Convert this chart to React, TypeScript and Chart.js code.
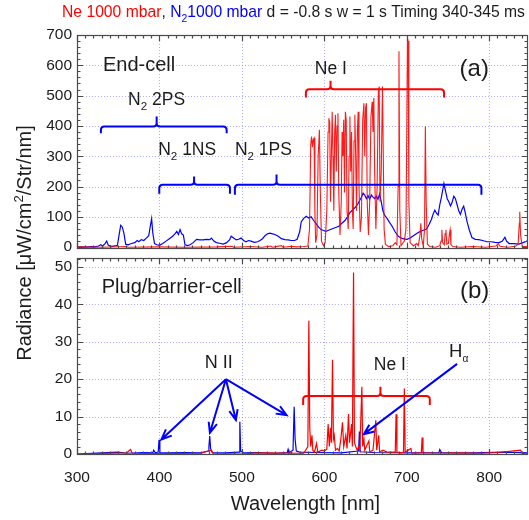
import React, { useEffect, useRef } from "react";
import { Chart, registerables } from "chart.js";

Chart.register(...registerables);

// ---------- styling constants ----------
const FONT = "'Liberation Sans', Arial, Helvetica, sans-serif";
const RED = "#ff0000";
const BLUE = "#0000ff";
const INK = "#1c1c1c";
const FRAME = "#4a4a4a";
const GRID = "rgba(120,120,255,0.6)";

// ---------- axes ----------
const WAVELENGTH_MIN = 300;
const WAVELENGTH_MAX = 847;
const X_TICKS = [300, 400, 500, 600, 700, 800];
const X_MAJOR_STEP = 100;
const X_MINOR_STEP = 10;

const TOP_Y_MIN = -6;
const TOP_Y_MAX = 700;
const TOP_Y_TICKS = [0, 100, 200, 300, 400, 500, 600, 700];
const TOP_Y_STEP = 100;
const TOP_Y_MINOR = 20;

const BOT_Y_MIN = -0.27;
const BOT_Y_MAX = 52.4;
const BOT_Y_TICKS = [0, 10, 20, 30, 40, 50];
const BOT_Y_STEP = 10;
const BOT_Y_MINOR = 2;

// ---------- data: (a) End-cell ----------
// N2 spectrum, [wavelength nm, radiance]
const n2EndCell: [number, number][] = [
  [300, 0], [305, 1], [310, 0], [318, 2], [322, 1], [326, 4], [329, 8], [331, 3], [334, 12], [336, 20], [338, 6],
  [342, 3], [346, 4], [349, 6], [351, 40], [353, 72], [355, 66], [357, 45], [359, 10], [362, 8], [366, 12], [370, 15],
  [373, 22], [375, 18], [378, 25], [381, 22], [384, 30], [387, 38], [389, 70], [390.5, 94], [392, 45], [394, 12],
  [397, 8], [400, 6], [404, 12], [408, 20], [412, 28], [416, 36], [419, 45], [421, 52], [423, 42], [425, 58],
  [427, 44], [429, 40], [431, 8], [434, 5], [437, 8], [441, 15], [445, 26], [449, 24], [453, 24], [457, 26],
  [461, 25], [463, 30], [466, 20], [469, 15], [473, 13], [477, 10], [481, 14], [485, 24], [487, 36], [490, 30],
  [493, 24], [496, 26], [499, 30], [502, 22], [505, 18], [508, 22], [511, 20], [515, 16], [519, 18], [522, 22],
  [525, 28], [528, 38], [531, 44], [534, 46], [537, 44], [540, 42], [544, 36], [548, 28], [552, 25], [556, 24],
  [560, 22], [564, 22], [567, 26], [570, 50], [572, 84], [575, 95], [578, 102], [581, 96], [584, 100], [587, 88],
  [590, 78], [593, 66], [596, 58], [599, 55], [602, 52], [605, 56], [609, 60], [613, 64], [617, 68], [621, 78],
  [625, 88], [628, 100], [631, 114], [634, 122], [637, 130], [640, 140], [643, 155], [645, 165], [647, 178],
  [649, 172], [651, 160], [653, 170], [655, 158], [657, 172], [659, 165], [661, 160], [663, 168], [665, 158],
  [667, 175], [669, 150], [671, 120], [673, 106], [676, 95], [679, 82], [682, 70], [686, 50], [690, 35], [695, 28],
  [700, 26], [704, 30], [708, 38], [712, 45], [716, 52], [720, 56], [724, 60], [727, 75], [730, 92], [732, 110],
  [734, 122], [736, 112], [738, 106], [740, 140], [742, 165], [745, 210], [747, 185], [749, 160], [751, 150],
  [753, 136], [755, 148], [757, 168], [759, 160], [761, 140], [763, 120], [765, 108], [767, 125], [769, 135],
  [771, 112], [773, 85], [776, 55], [779, 32], [783, 26], [787, 25], [792, 22], [797, 18], [802, 18], [807, 16],
  [812, 15], [816, 20], [819, 33], [821, 20], [824, 12], [830, 12], [836, 10], [840, 14], [844, 18], [847, 22],
];

// Ne spectrum, [wavelength nm, radiance]
const neEndCell: [number, number][] = [
  [300, 1], [330, 0], [360, 2], [362, 0], [400, 1], [430, 0], [470, 1], [488, 3], [490, 0], [510, 2], [525, 0],
  [535, 4], [537, 0], [548, 5], [550, 0], [560, 3], [566, 1], [575, 2], [580, 4],
  [582, 60], [583.5, 340], [584.5, 365], [585.5, 330], [586.5, 355], [587.5, 360], [588.5, 120], [589.5, 15],
  [591, 40], [592.5, 300], [594, 387], [595, 200], [596.5, 20], [599, 5], [601, 15],
  [603, 120], [604.5, 380], [605.5, 425], [606.5, 410], [607.5, 150], [608.5, 300], [609.5, 447], [610.5, 300],
  [611.5, 120], [612.5, 380], [613.5, 437], [614.5, 250], [615.5, 400], [616.5, 442], [617.5, 180], [619, 40],
  [620.5, 150], [621.5, 380], [622.5, 300], [623.5, 420], [624.5, 180], [625.5, 447], [626.5, 420], [627.5, 120],
  [629, 60], [630, 300], [631, 431], [632, 250], [633, 380], [634, 120], [635, 60], [636, 350], [637, 437],
  [638, 300], [639, 120], [640, 380], [641, 447], [642, 200], [643.5, 50], [645, 100], [646.5, 420], [648, 475],
  [649, 300], [650, 460], [651, 475], [652, 150], [653.5, 40], [655, 150], [656.5, 430], [658, 480], [659, 380],
  [660, 492], [661, 250], [662.5, 60], [664, 200], [665.5, 510], [666.5, 530], [667.5, 150], [669, 250],
  [670.5, 530], [671.5, 300], [672.5, 60], [674, 10], [678, 2], [683, 5], [686, 15], [688, 8], [689.5, 200],
  [690.5, 646], [691.5, 120], [693, 5], [697, 20], [699, 60], [700, 400], [700.8, 690], [701.6, 680],
  [702.5, 150], [704, 15], [708, 4], [712, 12], [714, 5], [716, 40], [717, 79], [718, 30], [720, 3], [721.5, 60],
  [722.5, 398], [723.5, 150], [725, 10], [728, 2], [735, 0], [740, 5], [741.5, 20], [742.5, 57], [743.5, 15],
  [745.5, 8], [746.5, 45], [747.5, 57], [748.5, 10], [750.5, 12], [751.5, 40], [752.5, 57], [753.5, 8],
  [756, 2], [765, 0], [780, 2], [795, 0], [808, 4], [811, 12], [813, 3], [822, 0], [832, 3], [835, 10],
  [836.5, 80], [837, 117], [838, 40], [840, 3], [847, 1],
];

// ---------- data: (b) Plug/barrier-cell ----------
const n2PlugCell: [number, number][] = [
  [300, 0], [330, 0.3], [350, 0.5], [360, 0.2], [380, 0.4], [392, 0.3], [393, 1], [395, 0.3], [398.5, 0.5],
  [399.5, 3.8], [400.5, 0.4], [410, 0.3], [430, 0.4], [450, 0.3], [459, 0.8], [460, 2], [461, 4.8], [462, 1.5],
  [464, 0.4], [480, 0.3], [496.5, 0.5], [497.5, 8.6], [498.5, 0.8], [502, 0.3], [520, 0.4], [540, 0.2],
  [555, 0.4], [556, 1.2], [557, 0.3], [562, 1], [563.4, 12.6], [564.5, 4], [566, 0.8], [570, 0.5], [590, 0.4],
  [620, 0.3], [641.5, 0.8], [642.5, 6], [643.5, 0.6], [660, 0.4], [700, 0.3], [739, 0.4], [740, 1.2],
  [742, 0.4], [780, 0.3], [820, 0.5], [847, 0.3],
];

const nePlugCell: [number, number][] = [
  [300, 0], [360, 0.3], [365, 1.2], [367, 0.2], [400, 0.1], [450, 0.2], [463, 1], [465, 0.1], [500, 0],
  [520, 0.3], [575, 0.2], [580, 2], [581.2, 35.6], [582.3, 7], [583.5, 2], [585, 5], [586, 1], [588, 0.5],
  [590.5, 2.8], [592, 0.5], [597, 1], [600, 0.8], [603, 1.3], [604.6, 8], [606, 2], [607.5, 7], [608.5, 3],
  [609.9, 25.2], [611, 4], [612, 5], [613.5, 1], [616, 1.5], [618, 0.8], [620, 4], [622, 8.5], [623.5, 2],
  [626, 5], [627.5, 1.5], [629.3, 10.7], [630.5, 3], [633, 8], [634, 2], [635.4, 48.5], [636.5, 3], [638, 2],
  [640, 1], [641.5, 2], [643, 1], [645.5, 18], [646.5, 2], [648, 4], [649, 1], [651, 2], [654, 3.5], [655, 0.5],
  [659, 1], [662.4, 9], [663.5, 1], [666, 5], [667, 0.5], [671, 1], [676, 0.5], [686, 0.5], [687, 10.6],
  [688, 0.5], [693, 0.3], [696, 0.5], [697, 17.5], [698, 0.5], [705, 1.5], [706, 0.2], [717.6, 0.3],
  [718.6, 4.4], [719.6, 0.3], [740, 0.2], [760, 0.3], [790, 0.2], [810, 0.4], [838, 1], [840, 0.2], [847, 0],
];

// ---------- annotations (data coordinates) ----------
type Part = { t: string; c?: string; sub?: boolean; sup?: boolean; scale?: number };
type Label = { parts: Part[]; x: number; y: number; size: number; color: string };
type Brace = { x1: number; x2: number; xc: number; y: number; yEnd: number; yTop: number; color: string };
type Arrow = { x0: number; y0: number; x1: number; y1: number; color: string };

const TITLE_PARTS: Part[] = [
  { t: "Ne 1000 mbar", c: RED },
  { t: ", ", c: INK },
  { t: "N", c: BLUE },
  { t: "2", c: BLUE, sub: true },
  { t: "1000 mbar", c: BLUE },
  { t: " d = -0.8 s w = 1 s Timing 340-345 ms", c: INK },
];
const Y_TITLE_PARTS: Part[] = [
  { t: "Radiance [\u03bcW/cm" },
  { t: "2", sup: true },
  { t: "/Str/nm]" },
];
const X_TITLE = "Wavelength [nm]";

const topLabels: Label[] = [
  { parts: [{ t: "End-cell" }], x: 331.5, y: 580, size: 20, color: INK },
  { parts: [{ t: "(a)" }], x: 764, y: 564, size: 24, color: INK },
  { parts: [{ t: "N" }, { t: "2", sub: true }, { t: " 2PS" }], x: 362, y: 470, size: 17.5, color: INK },
  { parts: [{ t: "N" }, { t: "2", sub: true }, { t: " 1NS" }], x: 398.5, y: 305, size: 17.5, color: INK },
  { parts: [{ t: "N" }, { t: "2", sub: true }, { t: " 1PS" }], x: 491.5, y: 305, size: 17.5, color: INK },
  { parts: [{ t: "Ne I" }], x: 588.5, y: 571, size: 17.5, color: INK },
];
const topBraces: Brace[] = [
  { x1: 329, x2: 481.5, xc: 396.6, y: 398, yEnd: 376, yTop: 431, color: BLUE },
  { x1: 399.8, x2: 485.5, xc: 442, y: 205.6, yEnd: 176, yTop: 233, color: BLUE },
  { x1: 491.5, x2: 790.5, xc: 542, y: 205.6, yEnd: 173, yTop: 240, color: BLUE },
  { x1: 577.6, x2: 745.2, xc: 607.5, y: 521, yEnd: 494, yTop: 549, color: RED },
];

const botLabels: Label[] = [
  { parts: [{ t: "Plug/barrier-cell" }], x: 330, y: 43, size: 20, color: INK },
  { parts: [{ t: "(b)" }], x: 764.5, y: 41.8, size: 24, color: INK },
  { parts: [{ t: "N II" }], x: 455, y: 22.9, size: 18, color: INK },
  { parts: [{ t: "Ne I" }], x: 660, y: 22.5, size: 17.5, color: INK },
  { parts: [{ t: "H" }, { t: "\u03b1", sub: true, scale: 0.55 }], x: 751.3, y: 26, size: 18.5, color: INK },
];
const botBraces: Brace[] = [
  { x1: 574.3, x2: 727.9, xc: 668, y: 15.5, yEnd: 13.1, yTop: 18, color: RED },
];
const botArrows: Arrow[] = [
  { x0: 480.6, y0: 20, x1: 402.4, y1: 3.9, color: BLUE },
  { x0: 480.6, y0: 20, x1: 461.2, y1: 5.7, color: BLUE },
  { x0: 480.6, y0: 20, x1: 492.7, y1: 9.1, color: BLUE },
  { x0: 480.6, y0: 20, x1: 554.2, y1: 10.4, color: BLUE },
  { x0: 761, y0: 24.1, x1: 647.9, y1: 5.3, color: BLUE },
];

// ---------- drawing helpers ----------
const font = (size: number) => `${size}px ${FONT}`;
const partSize = (p: Part, size: number) => (p.sub || p.sup ? size * (p.scale || 0.66) : size);

function drawRich(ctx: CanvasRenderingContext2D, parts: Part[], x: number, y: number, size: number, color: string, align: "left" | "center" = "left") {
  ctx.textBaseline = "alphabetic";
  ctx.textAlign = "left";
  let w = 0;
  for (const p of parts) {
    ctx.font = font(partSize(p, size));
    w += ctx.measureText(p.t).width;
  }
  let cx = align === "center" ? x - w / 2 : x;
  for (const p of parts) {
    ctx.font = font(partSize(p, size));
    ctx.fillStyle = p.c || color;
    const dy = p.sub ? size * 0.3 : p.sup ? -size * 0.4 : 0;
    ctx.fillText(p.t, cx, y + dy);
    cx += ctx.measureText(p.t).width;
  }
}

function drawBrace(ctx: CanvasRenderingContext2D, xs: any, ys: any, b: Brace) {
  const x1 = xs.getPixelForValue(b.x1);
  const x2 = xs.getPixelForValue(b.x2);
  const xc = xs.getPixelForValue(b.xc);
  const y = ys.getPixelForValue(b.y);
  const yEnd = ys.getPixelForValue(b.yEnd);
  const yTop = ys.getPixelForValue(b.yTop);
  const r = 3.5;
  ctx.strokeStyle = b.color;
  ctx.lineWidth = 2;
  ctx.beginPath();
  ctx.moveTo(x1, yEnd);
  ctx.lineTo(x1, y + r);
  ctx.quadraticCurveTo(x1, y, x1 + r, y);
  ctx.lineTo(xc - r, y);
  ctx.quadraticCurveTo(xc, y, xc, y - r);
  ctx.lineTo(xc, yTop);
  ctx.moveTo(xc, y - r);
  ctx.quadraticCurveTo(xc, y, xc + r, y);
  ctx.lineTo(x2 - r, y);
  ctx.quadraticCurveTo(x2, y, x2, y + r);
  ctx.lineTo(x2, yEnd);
  ctx.stroke();
}

function drawArrow(ctx: CanvasRenderingContext2D, xs: any, ys: any, a: Arrow) {
  const x0 = xs.getPixelForValue(a.x0);
  const y0 = ys.getPixelForValue(a.y0);
  const x1 = xs.getPixelForValue(a.x1);
  const y1 = ys.getPixelForValue(a.y1);
  const ang = Math.atan2(y1 - y0, x1 - x0);
  const L = 11;
  const A = 0.4;
  ctx.strokeStyle = a.color;
  ctx.lineWidth = 2;
  ctx.beginPath();
  ctx.moveTo(x0, y0);
  ctx.lineTo(x1, y1);
  ctx.moveTo(x1 - L * Math.cos(ang - A), y1 - L * Math.sin(ang - A));
  ctx.lineTo(x1, y1);
  ctx.lineTo(x1 - L * Math.cos(ang + A), y1 - L * Math.sin(ang + A));
  ctx.stroke();
}

type PanelCfg = {
  id: string;
  yTicks: number[];
  yMinor: number;
  yStep: number;
  yMaxTick: number;
  labels: Label[];
  braces: Brace[];
  arrows: Arrow[];
  extra?: (ctx: CanvasRenderingContext2D, chart: any) => void;
};

function panelPlugin(cfg: PanelCfg) {
  return {
    id: cfg.id,
    beforeDatasetsDraw(chart: any) {
      const { ctx, chartArea: a, scales } = chart;
      const xs = scales.x;
      const ys = scales.y;
      ctx.save();
      ctx.strokeStyle = GRID;
      ctx.lineWidth = 1;
      ctx.setLineDash([1, 2]);
      ctx.beginPath();
      for (const v of X_TICKS) {
        if (v === WAVELENGTH_MIN) continue;
        const px = Math.round(xs.getPixelForValue(v)) + 0.5;
        ctx.moveTo(px, a.top);
        ctx.lineTo(px, a.bottom);
      }
      for (const v of cfg.yTicks) {
        if (v === 0) continue;
        const py = Math.round(ys.getPixelForValue(v)) + 0.5;
        ctx.moveTo(a.left, py);
        ctx.lineTo(a.right, py);
      }
      ctx.stroke();
      ctx.restore();
    },
    afterDatasetsDraw(chart: any) {
      const { ctx, chartArea: a, scales } = chart;
      const xs = scales.x;
      const ys = scales.y;
      ctx.save();
      // frame
      ctx.strokeStyle = FRAME;
      ctx.lineWidth = 1.2;
      ctx.setLineDash([]);
      ctx.strokeRect(a.left + 0.5, a.top + 0.5, a.right - a.left - 1, a.bottom - a.top - 1);
      // inward tick marks on all four sides
      ctx.beginPath();
      for (let v = WAVELENGTH_MIN; v < WAVELENGTH_MAX; v += X_MINOR_STEP) {
        const major = (v - WAVELENGTH_MIN) % X_MAJOR_STEP === 0;
        const len = major ? 6 : 3.5;
        const px = Math.round(xs.getPixelForValue(v)) + 0.5;
        ctx.moveTo(px, a.top);
        ctx.lineTo(px, a.top + len);
        ctx.moveTo(px, a.bottom);
        ctx.lineTo(px, a.bottom - len);
      }
      for (let v = 0; v <= cfg.yMaxTick + 0.001; v += cfg.yMinor) {
        const major = Math.abs(v / cfg.yStep - Math.round(v / cfg.yStep)) < 1e-6;
        const len = major ? 6 : 3.5;
        const py = Math.round(ys.getPixelForValue(v)) + 0.5;
        ctx.moveTo(a.left, py);
        ctx.lineTo(a.left + len, py);
        ctx.moveTo(a.right, py);
        ctx.lineTo(a.right - len, py);
      }
      ctx.stroke();
      // annotations
      for (const b of cfg.braces) drawBrace(ctx, xs, ys, b);
      for (const ar of cfg.arrows) drawArrow(ctx, xs, ys, ar);
      for (const l of cfg.labels) {
        drawRich(ctx, l.parts, xs.getPixelForValue(l.x), ys.getPixelForValue(l.y), l.size, l.color);
      }
      if (cfg.extra) cfg.extra(ctx, chart);
      ctx.restore();
    },
  };
}

function lineDs(points: [number, number][], color: string, width: number) {
  return {
    data: points.map(([x, y]) => ({ x, y })),
    borderColor: color,
    borderWidth: width,
    pointRadius: 0,
    tension: 0,
    fill: false,
  };
}

function makeConfig(opts: {
  datasets: any[];
  padding: any;
  yMin: number;
  yMax: number;
  yTicks: number[];
  showX: boolean;
  plugin: any;
}) {
  return {
    type: "line" as const,
    data: { datasets: opts.datasets },
    options: {
      responsive: false,
      animation: false as const,
      events: [],
      layout: { padding: opts.padding },
      plugins: { legend: { display: false }, tooltip: { enabled: false }, title: { display: false } },
      scales: {
        x: {
          type: "linear" as const,
          min: WAVELENGTH_MIN,
          max: WAVELENGTH_MAX,
          afterBuildTicks: (s: any) => {
            s.ticks = X_TICKS.map((value) => ({ value }));
          },
          ticks: {
            display: opts.showX,
            padding: 13,
            maxRotation: 0,
            minRotation: 0,
            autoSkip: false,
            color: INK,
            font: { family: FONT, size: 15.5 },
          },
          grid: { display: false, drawTicks: false },
          border: { display: false },
          afterFit: (s: any) => {
            s.height = opts.showX ? 65 : 0;
          },
        },
        y: {
          type: "linear" as const,
          min: opts.yMin,
          max: opts.yMax,
          afterBuildTicks: (s: any) => {
            s.ticks = opts.yTicks.map((value) => ({ value }));
          },
          ticks: {
            padding: 5,
            autoSkip: false,
            color: INK,
            font: { family: FONT, size: 15.5 },
          },
          grid: { display: false, drawTicks: false },
          border: { display: false },
          afterFit: (s: any) => {
            s.width = 77;
          },
        },
      },
    },
    plugins: [opts.plugin],
  };
}

export default function App() {
  const topRef = useRef<HTMLCanvasElement>(null);
  const botRef = useRef<HTMLCanvasElement>(null);

  useEffect(() => {
    const topPlugin = panelPlugin({
      id: "panelTop",
      yTicks: TOP_Y_TICKS,
      yMinor: TOP_Y_MINOR,
      yStep: TOP_Y_STEP,
      yMaxTick: TOP_Y_MAX,
      labels: topLabels,
      braces: topBraces,
      arrows: [],
      extra: (ctx) => {
        drawRich(ctx, TITLE_PARTS, 62, 17, 15.7, INK);
      },
    });
    const botPlugin = panelPlugin({
      id: "panelBot",
      yTicks: BOT_Y_TICKS,
      yMinor: BOT_Y_MINOR,
      yStep: BOT_Y_STEP,
      yMaxTick: 52,
      labels: botLabels,
      braces: botBraces,
      arrows: botArrows,
      extra: (ctx, chart) => {
        const a = chart.chartArea;
        ctx.fillStyle = INK;
        ctx.font = font(20);
        ctx.textAlign = "center";
        ctx.textBaseline = "alphabetic";
        ctx.fillText(X_TITLE, (a.left + a.right) / 2 + 3, 510);
        ctx.save();
        ctx.translate(31, 243);
        ctx.rotate(-Math.PI / 2);
        drawRich(ctx, Y_TITLE_PARTS, 0, 0, 20, INK, "center");
        ctx.restore();
      },
    });

    const top = new Chart(
      topRef.current as HTMLCanvasElement,
      makeConfig({
        datasets: [lineDs(neEndCell, "rgba(255,0,0,0.9)", 1.1), lineDs(n2EndCell, BLUE, 1.2)],
        padding: { left: 0, right: 1, top: 35, bottom: 271 },
        yMin: TOP_Y_MIN,
        yMax: TOP_Y_MAX,
        yTicks: TOP_Y_TICKS,
        showX: false,
        plugin: topPlugin,
      }) as any
    );
    const bot = new Chart(
      botRef.current as HTMLCanvasElement,
      makeConfig({
        datasets: [lineDs(nePlugCell, RED, 1.2), lineDs(n2PlugCell, BLUE, 1.2)],
        padding: { left: 0, right: 1, top: 258, bottom: 0 },
        yMin: BOT_Y_MIN,
        yMax: BOT_Y_MAX,
        yTicks: BOT_Y_TICKS,
        showX: true,
        plugin: botPlugin,
      }) as any
    );
    return () => {
      top.destroy();
      bot.destroy();
    };
  }, []);

  const cs: React.CSSProperties = { position: "absolute", left: 0, top: 0, display: "block" };
  return (
    <div style={{ position: "fixed", left: 0, top: 0, width: 529, height: 520, background: "#fff", overflow: "hidden" }}>
      <canvas ref={topRef} width={529} height={520} style={cs} />
      <canvas ref={botRef} width={529} height={520} style={cs} />
    </div>
  );
}
